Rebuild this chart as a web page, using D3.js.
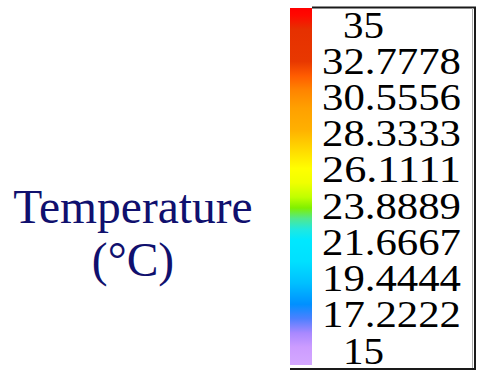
<!DOCTYPE html>
<html>
<head>
<meta charset="utf-8">
<script src="https://cdn.jsdelivr.net/npm/d3@7"></script>
<style>
body{margin:0;background:#fff;}
</style>
</head>
<body>
<div id="chart"></div>
<script>
// tick labels of the colour legend, top to bottom
var tickValues = [35, 32.7778, 30.5556, 28.3333, 26.1111, 23.8889, 21.6667, 19.4444, 17.2222, 15];
var tickLabels = ["35", "32.7778", "30.5556", "28.3333", "26.1111", "23.8889", "21.6667", "19.4444", "17.2222", "15"];
// colour ramp stops (0 = top of bar, 1 = bottom)
var stopOffsets = [0, 0.02, 0.06, 0.15, 0.19, 0.23, 0.28, 0.34, 0.39, 0.45, 0.49, 0.53, 0.56, 0.59, 0.62, 0.65, 0.71, 0.77, 0.83, 0.87, 0.91, 0.95, 1];
var stopColors = ["#ff0000", "#ff0800", "#e63000", "#e83800", "#ff5c00", "#ff8400", "#ffa000", "#ffb000", "#ffd400", "#ffff00", "#f0ff00", "#c0ff00", "#80f000", "#50e890", "#20e8e0", "#00e8ff", "#00e0ff", "#00c0ff", "#0090ff", "#4c80ff", "#a888ff", "#cc9cff", "#d4a8ff"];
var titleLines = ["Temperature", "(°C)"];

var svg = d3.select("#chart")
.append("svg")
.attr("width", 481)
.attr("height", 375);

// y position of label centres
var yScale = d3.scaleLinear()
.domain([35, 15])
.range([25, 351]);

var defs = svg.append("defs");
var grad = defs.append("linearGradient")
.attr("id", "ramp")
.attr("x1", 0).attr("y1", 0).attr("x2", 0).attr("y2", 1);
grad.selectAll("stop")
.data(stopOffsets)
.enter().append("stop")
.attr("offset", function(d){return d;})
.attr("stop-color", function(d, i){return stopColors[i];});

// colour bar
svg.append("rect")
.attr("x", 290)
.attr("y", 8)
.attr("width", 22)
.attr("height", 357)
.attr("fill", "url(#ramp)");

// frame around the labels
svg.append("path")
.attr("d", "M312,7.5H475V369H290")
.attr("fill", "none")
.attr("stroke", "#1a1a1a")
.attr("stroke-width", 2);
svg.append("line")
.attr("x1", 472.5).attr("x2", 472.5)
.attr("y1", 8).attr("y2", 368)
.attr("stroke", "#aaa")
.attr("stroke-width", 1);

// tick labels
svg.selectAll("text.tick")
.data(tickValues)
.enter().append("text")
.attr("class", "tick")
.attr("x", function(d, i){return tickLabels[i].length < 4 ? 343 : 322;})
.attr("y", function(d){return yScale(d) + 12.5;})
.attr("font-family", "Liberation Serif, Times New Roman, serif")
.attr("font-size", 37)
.attr("fill", "#000")
.attr("textLength", function(d, i){
  var s = tickLabels[i];
  var n = s.replace(".", "").length;
  return n * 20.5 + (s.indexOf(".") >= 0 ? 16 : 0);
})
.attr("lengthAdjust", "spacingAndGlyphs")
.text(function(d, i){return tickLabels[i];});

// title on the left
svg.selectAll("text.title")
.data(titleLines)
.enter().append("text")
.attr("class", "title")
.attr("x", 133)
.attr("y", function(d, i){return 223 + i * 53;})
.attr("text-anchor", "middle")
.attr("font-family", "Liberation Serif, Times New Roman, serif")
.attr("font-size", 47.5)
.attr("fill", "#10106e")
.text(function(d){return d;});
</script>
</body>
</html>
